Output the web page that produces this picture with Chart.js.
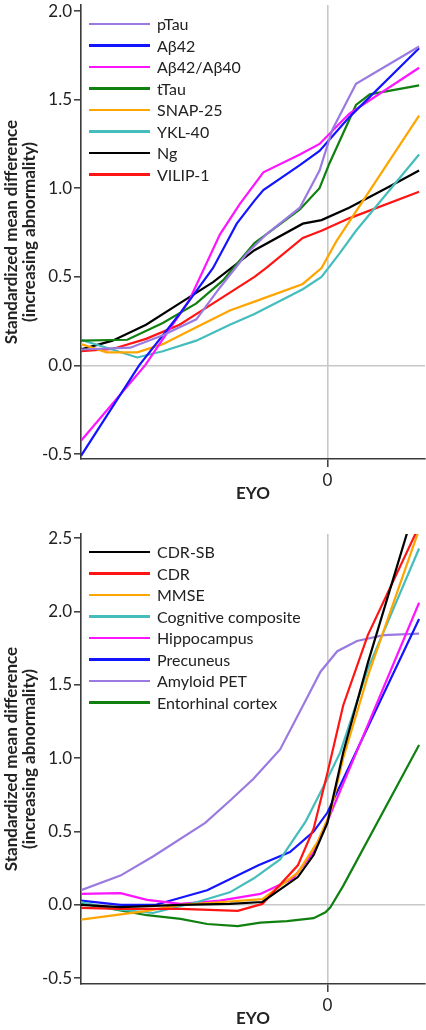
<!DOCTYPE html>
<html lang="en">
<head>
<meta charset="UTF-8">
<title>Standardized mean difference by EYO</title>
<script src="https://cdn.jsdelivr.net/npm/chart.js"></script>
<style>
  body { margin: 0; background: #fff; width: 426px; height: 1030px; position: relative; overflow: hidden; font-family: Lato, sans-serif; }
  canvas { position: absolute; left: 0; }
  .legend { position: absolute; left: 89px; font-size: 16px; color: #222; }
  .legend .row { height: 21.5px; display: flex; align-items: center; white-space: nowrap; }
  .legend .sw { display: inline-block; width: 61px; height: 2.5px; margin-right: 7px; }
</style>
</head>
<body>

<canvas id="csf" width="426" height="505" style="top:0"></canvas>
<canvas id="clin" width="426" height="525" style="top:505px"></canvas>
<div class="legend" id="csfLegend" style="top:13px"></div>
<div class="legend" id="clinLegend" style="top:541px"></div>

<script>
// ---- top panel: CSF markers (x = EYO, y = standardized mean difference)
const eyoPTau = [-25, -20, -16.7, -13.3, -10.9, -8.2, -6.2, -2.8, -0.8, 0.5, 2.9, 9.3];
const smdPTau = [0.09, 0.10, 0.17, 0.26, 0.44, 0.63, 0.74, 0.89, 1.10, 1.33, 1.59, 1.80];
const eyoAb42 = [-25, -19.1, -15.0, -11.6, -9.2, -7.4, -6.5, -2.8, -0.8, 2.2, 9.3];
const smdAb42 = [-0.51, 0, 0.29, 0.55, 0.80, 0.93, 0.99, 1.13, 1.21, 1.40, 1.79];
const eyoRatio = [-25, -18.5, -14.0, -10.9, -8.9, -6.5, -2.8, -0.8, 2.2, 9.3];
const smdRatio = [-0.425, 0, 0.37, 0.74, 0.91, 1.09, 1.19, 1.25, 1.42, 1.68];
const eyoTTau = [-25, -20.3, -16.7, -13.3, -10.6, -7.4, -6.2, -2.8, -0.8, 0.2, 2.9, 4.3, 9.3];
const smdTTau = [0.14, 0.145, 0.24, 0.35, 0.48, 0.69, 0.74, 0.88, 1.00, 1.14, 1.47, 1.53, 1.58];
const eyoSnap = [-25, -22.4, -19.3, -16.7, -13.3, -9.9, -7.4, -2.5, -0.6, 0.9, 9.3];
const smdSnap = [0.12, 0.074, 0.074, 0.12, 0.215, 0.31, 0.36, 0.46, 0.55, 0.70, 1.41];
const eyoYkl = [-25, -22.4, -19.3, -16.7, -13.3, -9.9, -7.4, -2.5, -0.6, 1.2, 2.9, 9.3];
const smdYkl = [0.145, 0.10, 0.045, 0.08, 0.14, 0.23, 0.29, 0.43, 0.50, 0.63, 0.76, 1.19];
const eyoNg = [-25, -21.8, -18.4, -15.0, -11.6, -7.4, -2.5, -0.6, 2.2, 6.3, 9.3];
const smdNg = [0.09, 0.14, 0.23, 0.35, 0.47, 0.65, 0.80, 0.82, 0.89, 1.01, 1.10];
const eyoVilip = [-25, -21.8, -18.4, -15.0, -11.6, -7.4, -6.2, -2.5, -0.6, 2.2, 9.3];
const smdVilip = [0.08, 0.093, 0.15, 0.23, 0.35, 0.50, 0.55, 0.72, 0.76, 0.83, 0.98];

// ---- bottom panel: clinical / imaging
const eyoCdrSb = [-25, -21, -14.9, -9.9, -6.6, -3.0, -1.4, 0, 1.6, 4.1, 8.1, 9.3];
const smdCdrSb = [0, -0.015, 0, 0.007, 0.02, 0.19, 0.34, 0.56, 1.04, 1.65, 2.54, 2.79];
const eyoCdr = [-25, -21, -14.9, -9.1, -6.6, -3.0, -1.4, 0, 1.6, 4.1, 9.0, 9.3];
const smdCdr = [-0.02, -0.027, -0.027, -0.04, 0.007, 0.27, 0.52, 0.90, 1.36, 1.84, 2.54, 2.58];
const eyoMmse = [-25, -18.3, -14.9, -10.6, -6.6, -3.0, -1.0, 0.3, 1.6, 4.1, 9.2, 9.3];
const smdMmse = [-0.10, -0.04, 0, 0.02, 0.04, 0.22, 0.43, 0.63, 1.0, 1.56, 2.54, 2.56];
const eyoCog = [-25, -21.8, -17.7, -13.2, -9.9, -7.5, -4.8, -2.2, 0, 1.3, 4.1, 9.3];
const smdCog = [0.02, -0.027, -0.055, 0.02, 0.086, 0.18, 0.31, 0.57, 0.86, 1.04, 1.61, 2.43];
const eyoHippo = [-25, -21, -18.3, -14.9, -10.9, -6.8, -3.5, -1.4, 0, 9.3];
const smdHippo = [0.075, 0.08, 0.035, 0.007, 0.03, 0.075, 0.18, 0.36, 0.57, 2.06];
const eyoPrec = [-25, -21, -17.5, -12.2, -7.0, -3.8, -1.4, 0, 9.3];
const smdPrec = [0.03, 0, 0, 0.10, 0.27, 0.36, 0.50, 0.63, 1.95];
const eyoPet = [-25, -21, -17.7, -12.4, -9.9, -7.5, -4.8, -2.7, -0.7, 1.0, 3.0, 5.7, 9.3];
const smdPet = [0.10, 0.20, 0.33, 0.56, 0.71, 0.86, 1.06, 1.33, 1.59, 1.73, 1.80, 1.84, 1.85];
const eyoEnt = [-25, -18.3, -14.9, -12.2, -9.1, -6.8, -4.1, -1.4, -0.2, 0.3, 1.6, 9.3];
const smdEnt = [0.01, -0.07, -0.095, -0.13, -0.145, -0.12, -0.11, -0.09, -0.05, -0.016, 0.13, 1.09];

const yTicksTop = [-0.5, 0, 0.5, 1.0, 1.5, 2.0];
const yTicksBottom = [-0.5, 0, 0.5, 1.0, 1.5, 2.0, 2.5];

const csfSeries = [
  { label: 'pTau', color: '#9a7ae0', eyo: eyoPTau, smd: smdPTau },
  { label: 'Aβ42', color: '#1414ff', eyo: eyoAb42, smd: smdAb42 },
  { label: 'Aβ42/Aβ40', color: '#ff14ff', eyo: eyoRatio, smd: smdRatio },
  { label: 'tTau', color: '#108010', eyo: eyoTTau, smd: smdTTau },
  { label: 'SNAP-25', color: '#ffa500', eyo: eyoSnap, smd: smdSnap },
  { label: 'YKL-40', color: '#45bdbd', eyo: eyoYkl, smd: smdYkl },
  { label: 'Ng', color: '#000000', eyo: eyoNg, smd: smdNg },
  { label: 'VILIP-1', color: '#ff1414', eyo: eyoVilip, smd: smdVilip }
];
const clinSeries = [
  { label: 'CDR-SB', color: '#000000', eyo: eyoCdrSb, smd: smdCdrSb },
  { label: 'CDR', color: '#ff1414', eyo: eyoCdr, smd: smdCdr },
  { label: 'MMSE', color: '#ffa500', eyo: eyoMmse, smd: smdMmse },
  { label: 'Cognitive composite', color: '#45bdbd', eyo: eyoCog, smd: smdCog },
  { label: 'Hippocampus', color: '#ff14ff', eyo: eyoHippo, smd: smdHippo },
  { label: 'Precuneus', color: '#1414ff', eyo: eyoPrec, smd: smdPrec },
  { label: 'Amyloid PET', color: '#9a7ae0', eyo: eyoPet, smd: smdPet },
  { label: 'Entorhinal cortex', color: '#108010', eyo: eyoEnt, smd: smdEnt }
];

const axisColor = '#3a3a3a';
const refColor = '#c8c8c8';
const textColor = '#222';

function makePanel(id, series, yMin, yMax, yTicks, padTop) {
  const datasets = series.map(s => ({
    label: s.label,
    data: s.eyo.map((x, i) => ({ x: x, y: s.smd[i] })),
    borderColor: s.color,
    borderWidth: 2.2,
    pointRadius: 0,
    tension: 0,
    fill: false
  }));

  return new Chart(document.getElementById(id), {
    type: 'line',
    data: { datasets: datasets },
    options: {
      responsive: false,
      animation: false,
      events: [],
      layout: { padding: { top: padTop, right: 1, left: 0, bottom: 0 } },
      plugins: { legend: { display: false }, tooltip: { enabled: false } },
      scales: {
        x: {
          type: 'linear', min: -25, max: 9.9,
          afterBuildTicks: s => { s.ticks = [{ value: 0 }]; },
          afterFit: s => { s.height = 46; s.paddingLeft = 0; s.paddingRight = 0; },
          ticks: { font: { family: 'Lato', size: 17 }, color: textColor, padding: 3, maxRotation: 0, callback: v => String(v) },
          grid: { color: refColor, lineWidth: 1.6, tickColor: axisColor, tickLength: 8, tickWidth: 1.5 },
          border: { color: axisColor, width: 1.6 },
          title: { display: true, text: 'EYO', color: textColor, font: { family: 'Lato', size: 17, weight: 'bold' }, padding: { top: 0, bottom: 1 } }
        },
        y: {
          min: yMin, max: yMax,
          afterBuildTicks: s => { s.ticks = yTicks.map(v => ({ value: v })); },
          afterFit: s => { s.width = 81; s.paddingTop = 0; s.paddingBottom = 0; },
          ticks: { font: { family: 'Lato', size: 17 }, color: textColor, padding: 2, callback: v => v.toFixed(1) },
          grid: {
            color: c => (c.tick && c.tick.value === 0) ? refColor : 'rgba(0,0,0,0)',
            lineWidth: 1.6, tickColor: axisColor, tickLength: 7, tickWidth: 1.5
          },
          border: { color: axisColor, width: 1.6 },
          title: {
            display: true,
            text: ['Standardized mean difference', '(increasing abnormality)'],
            color: textColor,
            font: { family: 'Lato', size: 17, weight: 'bold', lineHeight: 1.05 },
            padding: { top: 3, bottom: 0 }
          }
        }
      }
    }
  });
}

function buildLegend(el, series) {
  series.forEach(s => {
    const row = document.createElement('div');
    row.className = 'row';
    const sw = document.createElement('span');
    sw.className = 'sw';
    sw.style.background = s.color;
    row.appendChild(sw);
    row.appendChild(document.createTextNode(s.label));
    el.appendChild(row);
  });
}

makePanel('csf', csfSeries, -0.528, 2.034, yTicksTop, 5);
makePanel('clin', clinSeries, -0.539, 2.529, yTicksBottom, 29);
buildLegend(document.getElementById('csfLegend'), csfSeries);
buildLegend(document.getElementById('clinLegend'), clinSeries);
</script>

</body>
</html>
